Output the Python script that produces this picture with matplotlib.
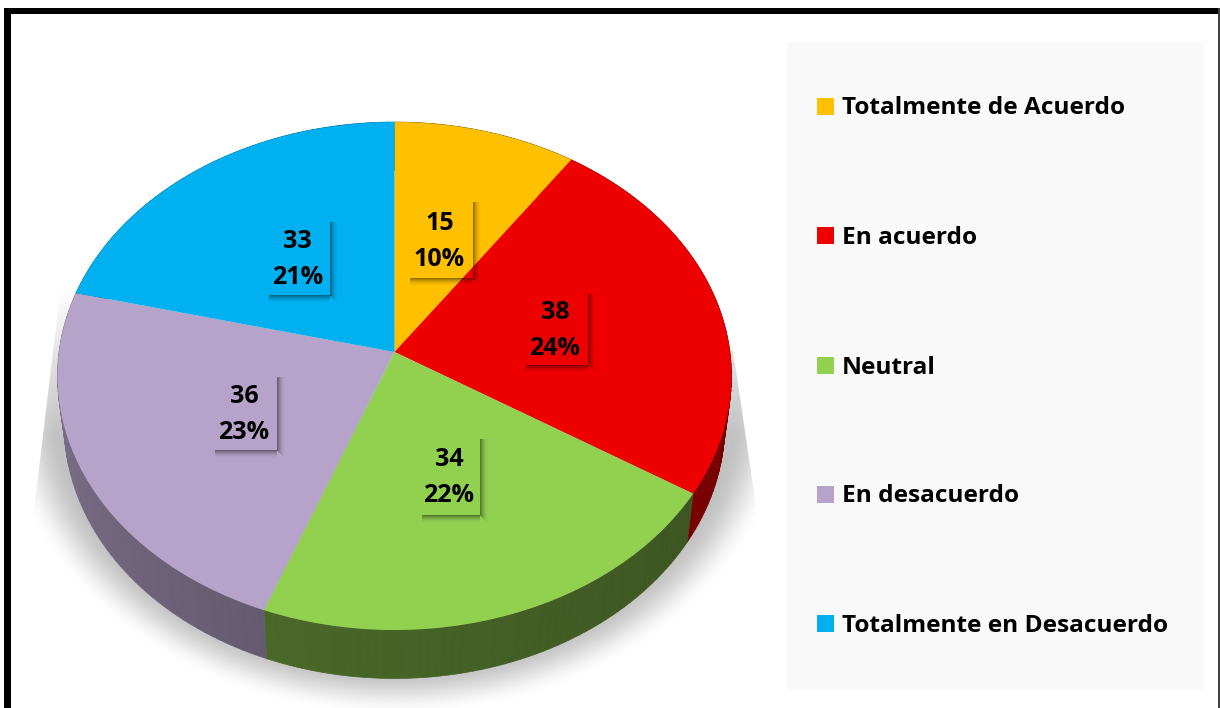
import numpy as np
import matplotlib
matplotlib.use("Agg")
import matplotlib.pyplot as plt
from matplotlib.patches import Polygon, Rectangle
from matplotlib.path import Path
from matplotlib.transforms import Transform

categories = ["Totalmente de Acuerdo", "En acuerdo", "Neutral", "En desacuerdo", "Totalmente en Desacuerdo"]
counts = [15, 38, 34, 36, 33]
percents = ["10%", "24%", "22%", "23%", "21%"]
colors = ["#FFC000", "#EF0000", "#92D050", "#B5A3C9", "#00B0F0"]

# darkness of the rim for each slice, at the two ends of its arc
rim_shade = [(0.5, 0.5), (0.5, 0.5), (0.50, 0.41), (0.72, 0.56), (0.6, 0.6)]

# label boxes in pixels: left, top, right, bottom
label_boxes = [(406, 198, 473, 278), (522, 290, 588, 365), (418, 435, 480, 515),
               (211, 373, 277, 450), (265, 218, 330, 295)]
legend_y = [106, 235, 365, 494, 623]

plt.rcParams["font.family"] = ["Open Sans", "DejaVu Sans"]


class TiltTransform(Transform):
    """Lays the unit pie on its back, with some perspective."""
    input_dims = 2
    output_dims = 2

    def transform_non_affine(self, values):
        values = np.asarray(values, dtype=float)
        w = 1 + 0.0945 * values[:, 1]
        return np.column_stack([394.5 + 335.5 * values[:, 0] / w,
                                352 - 251.7 * values[:, 1] / w])

    def transform_path_non_affine(self, path):
        return Path(self.transform_non_affine(path.vertices), path.codes)


fig = plt.figure(figsize=(12.2, 7.08), dpi=100)
ax = fig.add_axes([0, 0, 1, 1])

wedges, _ = ax.pie(counts, colors=colors, startangle=90, counterclock=False, radius=1)

ax.set_aspect("auto")
ax.set_xlim(0, 1220)
ax.set_ylim(708, 0)
ax.set_axis_off()

# soft shadow under the pie
xx, yy = np.meshgrid(np.arange(0, 800), np.arange(250, 708))
r = np.sqrt(((xx - 395) / 375.0) ** 2 + ((yy - 400) / 300.0) ** 2)
fade = np.clip((1.05 - r) / 0.15, 0, 1)
fade = fade * fade * (3 - 2 * fade)
fade = fade * np.clip((yy - 285) / 150.0, 0, 1)
shadow = np.zeros(xx.shape + (4,))
shadow[..., :3] = 0.76
shadow[..., 3] = fade
im = ax.imshow(shadow, extent=(0, 800, 708, 250), aspect="auto", zorder=1)
ax.set_xlim(0, 1220)
ax.set_ylim(708, 0)
clip = Polygon([(61, 285), (28, 560), (28, 708), (770, 708), (764, 560), (733, 350)],
               transform=ax.transData)
im.set_clip_path(clip)

# rim of the pie
tilt = TiltTransform()
for wedge, color, shade in zip(wedges, colors, rim_shade):
    base = np.array(matplotlib.colors.to_rgb(color))
    thetas = np.linspace(wedge.theta1, wedge.theta2, 60)
    pts = np.column_stack([np.cos(np.radians(thetas)), np.sin(np.radians(thetas))])
    top = tilt.transform_non_affine(pts)
    low = np.column_stack([394.5 + 0.98 * (top[:, 0] - 394.5), top[:, 1] + 48.5])
    for i in range(len(thetas) - 1):
        f = shade[0] + (shade[1] - shade[0]) * i / (len(thetas) - 2)
        quad = [top[i], top[i + 1], low[i + 1], low[i]]
        ax.add_patch(Polygon(quad, facecolor=base * f, edgecolor=base * f, linewidth=0.5, zorder=2))

# top face
for wedge in wedges:
    wedge.set_transform(tilt + ax.transData)
    wedge.set_zorder(3)
    wedge.set_linewidth(0)

# value labels, the box only shows through its shadow
for box, count, pct in zip(label_boxes, counts, percents):
    x0, y0, x1, y1 = box
    for i in range(8):
        a = 0.42 * (1 - i / 8.0) ** 2
        ax.add_patch(Rectangle((x1 + i, y0 + 4), 1, y1 - y0 + i - 3, facecolor="black", alpha=a, linewidth=0, zorder=4))
        ax.add_patch(Rectangle((x0 + 4, y1 + i), x1 - x0 - 4, 1, facecolor="black", alpha=a, linewidth=0, zorder=4))
    xc = (x0 + x1) / 2.0
    ym = (y0 + y1) / 2.0
    ax.text(xc, ym - 15, str(count), ha="center", va="center", fontsize=18, fontweight="bold", color="black", zorder=5)
    ax.text(xc, ym + 21, pct, ha="center", va="center", fontsize=18, fontweight="bold", color="black", zorder=5)

# legend panel
ax.add_patch(Rectangle((787, 42), 417, 647, facecolor="#F9F9F9", linewidth=0, zorder=1))
for name, color, y in zip(categories, colors, legend_y):
    ax.add_patch(Rectangle((817, y - 8.5), 17, 17, facecolor=color, linewidth=0, zorder=3))
    ax.text(842, y + 2.5, name, ha="left", va="center", fontsize=17.6, fontweight="bold", color="black", zorder=3)

# picture frame
ax.add_patch(Rectangle((4, 7.5), 1216, 6, facecolor="black", linewidth=0, zorder=6))
ax.add_patch(Rectangle((4, 7.5), 6.5, 701, facecolor="black", linewidth=0, zorder=6))
ax.add_patch(Rectangle((1218, 7.5), 1.5, 701, facecolor="#404040", linewidth=0, zorder=6))

fig.savefig("out.png", dpi=100)
plt.close()
